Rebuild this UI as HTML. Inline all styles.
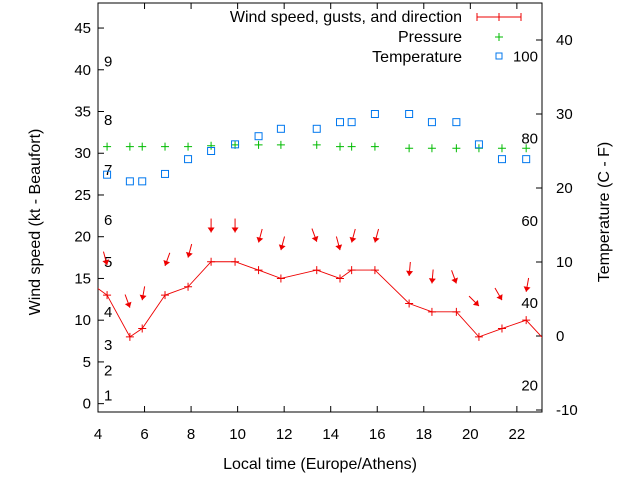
<!DOCTYPE html>
<html><head><meta charset="utf-8"><style>
body{margin:0;background:#fff}
svg{display:block;font-family:"Liberation Sans",sans-serif}
text{font-size:15px;fill:#000}
text.big{font-size:16px}
</style></head><body>
<svg id="c" width="640" height="480" viewBox="0 0 640 480" xmlns="http://www.w3.org/2000/svg">
<rect x="98" y="3" width="444" height="409" fill="none" stroke="#000" stroke-width="1"/>
<g id="g"></g>
<text class="big" x="40" y="222" transform="rotate(-90 40 222)" text-anchor="middle">Wind speed (kt - Beaufort)</text>
<text class="big" x="609" y="212" transform="rotate(-90 609 212)" text-anchor="middle">Temperature (C - F)</text>
<text class="big" x="320" y="469" text-anchor="middle">Local time (Europe/Athens)</text>
<g>
<text class="big" x="462" y="22" text-anchor="end">Wind speed, gusts, and direction</text>
<line x1="477" y1="17" x2="521" y2="17" stroke="#e00"/>
<line x1="477" y1="13" x2="477" y2="21" stroke="#e00"/><line x1="521" y1="13" x2="521" y2="21" stroke="#e00"/><line x1="499" y1="13" x2="499" y2="21" stroke="#e00"/>
<text class="big" x="462" y="42" text-anchor="end">Pressure</text>
<path d="M499 33v8M495 37h8" stroke="#0b0"/>
<text class="big" x="462" y="62" text-anchor="end">Temperature</text>
<rect x="496" y="53" width="6" height="6" fill="none" stroke="#07e"/>
</g>
</svg>
<script>
const hours=[3.4,4.39,5.37,5.9,6.88,7.87,8.86,9.89,10.9,11.86,13.4,14.4,14.9,15.9,17.37,18.35,19.4,20.37,21.36,22.4,23.4];
const wind=[15,13,8,9,13,14,17,17,16,15,16,15,16,16,12,11,11,8,9,10,7];
const gust=[null,16.6,11.5,12.4,16.5,17.5,20.5,20.5,19.3,18.4,19.4,18.4,19.3,19.3,15.3,14.4,14.4,11.7,12.4,13.4,null];
const dir=[null,345,340,10,20,15,0,0,15,15,340,345,15,15,5,5,340,315,330,10,null];
const pressure=[null,30.8,30.8,30.8,30.8,30.8,30.9,31.0,31.0,31.0,31.0,30.8,30.8,30.8,30.6,30.6,30.6,30.6,30.6,30.6,null];
const tempC=[null,21.8,20.9,20.9,21.9,23.9,25,25.9,27,28,28,28.9,28.9,30,30,28.9,28.9,25.9,23.9,23.9,null];
const yTicks=[0,5,10,15,20,25,30,35,40,45];
const y2Ticks=[-10,0,10,20,30,40];
const xTicks=[4,6,8,10,12,14,16,18,20,22];
const beaufort=[[1,1],[2,4],[3,7],[4,11],[5,17],[6,22],[7,28],[8,34],[9,41]];
const fahr=[20,40,60,80,100];
const X0=98,X1=542,Y0=412,Y1=3;
const xs=h=>X0+(h-4)*(X1-X0)/(23.08-4);
const ys=v=>Y0-(v+1)*(Y0-Y1)/49;
const ys2=c=>336-c*7.4;
const NS='http://www.w3.org/2000/svg';
const g=document.getElementById('g');
function mk(t,a,p){const e=document.createElementNS(NS,t);for(const k in a)e.setAttribute(k,a[k]);(p||g).appendChild(e);return e;}
const clip=mk('clipPath',{id:'cp'});mk('rect',{x:X0,y:Y1,width:X1-X0,height:Y0-Y1},clip);
yTicks.forEach(v=>{const y=ys(v);
 const l=mk('line',{x1:X0,x2:X0+6,y1:y,y2:y,stroke:'#000'});
 
 
 const t=mk('text',{x:91,y:y+5,'text-anchor':'end'});t.textContent=v;
 
 });
y2Ticks.forEach(v=>{const y=ys2(v);
 const l=mk('line',{x1:X1-6,x2:X1,y1:y,y2:y,stroke:'#000'});
 
 
 const t=mk('text',{x:556,y:y+5});t.textContent=v;
 
 });
xTicks.forEach(v=>{const x=xs(v);
 mk('line',{x1:x,x2:x,y1:Y0,y2:Y0-6,stroke:'#000'});mk('line',{x1:x,x2:x,y1:Y1,y2:Y1+6,stroke:'#000'});
 const t=mk('text',{x:x,y:439,'text-anchor':'middle'});t.textContent=v;
 
 });
beaufort.forEach(b=>{const t=mk('text',{x:104,y:ys(b[1])+5});t.textContent=b[0];
 
 });
fahr.forEach(f=>{const c=(f-32)*5/9;const t=mk('text',{x:538,y:ys2(c)+5,'text-anchor':'end'});t.textContent=f;
 
 });
const pg=mk('g',{'clip-path':'url(#cp)'});
const wl=mk('polyline',{points:hours.map((h,i)=>xs(h)+','+ys(wind[i])).join(' '),fill:'none',stroke:'#e00','stroke-width':0.9},pg);


hours.forEach((h,i)=>{const x=xs(h),y=ys(wind[i]);
 const m=mk('path',{d:`M${x-4} ${y}h8M${x} ${y-4}v8`,stroke:'#e00'},pg);
 
 
 if(gust[i]!=null){const a=dir[i]*Math.PI/180,tx=x,ty=ys(gust[i]);
  const L=14,sx=tx+Math.sin(a)*L,sy=ty-Math.cos(a)*L;
  const ux=(tx-sx)/L,uy=(ty-sy)/L;
  const ar=mk('g',{},pg);
  
  
  mk('line',{x1:sx,y1:sy,x2:tx,y2:ty,stroke:'#e00','stroke-width':1},ar);
  mk('polygon',{points:`${tx},${ty} ${tx-ux*5-uy*3.5},${ty-uy*5+ux*3.5} ${tx-ux*5+uy*3.5},${ty-uy*5-ux*3.5}`,fill:'#e00'},ar);}
 if(pressure[i]!=null){const py=ys(pressure[i]);
  const p=mk('path',{d:`M${x-4} ${py}h8M${x} ${py-4}v8`,stroke:'#0b0'},pg);
  
  }
 if(tempC[i]!=null){const ty2=ys2(tempC[i]);
  const r=mk('rect',{x:x-3.5,y:ty2-3.5,width:7,height:7,fill:'none',stroke:'#07e'},pg);
  
  }
});
</script>
</body></html>
